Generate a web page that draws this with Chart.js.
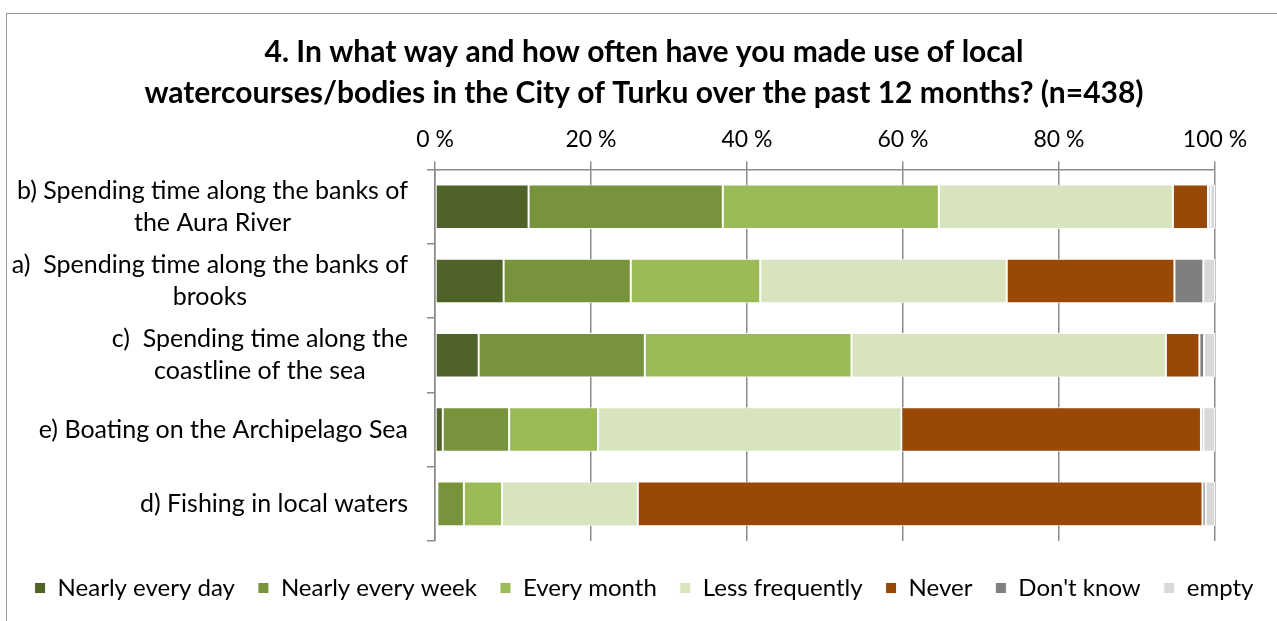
<!DOCTYPE html>
<html>
<head>
<meta charset="utf-8">
<script src="https://cdn.jsdelivr.net/npm/chart.js@4/dist/chart.umd.min.js"></script>
<style>
  html, body { margin: 0; padding: 0; background: #fff; overflow: hidden; }
  #frame { position: absolute; left: 6px; top: 13px; width: 1290px; height: 640px;
           border-left: 1px solid #9a9a9a; border-top: 1px solid #9a9a9a; }
  #wrap { position: absolute; left: 0; top: 0; width: 1274px; height: 607px; }
</style>
</head>
<body>
<div id="frame"><div id="wrap"><canvas id="myChart"></canvas></div></div>
<script>
// categories, top to bottom
const categories = [
  ['b) Spending time along the banks of', 'the Aura River'],
  ['a)  Spending time along the banks of', 'brooks'],
  ['c)  Spending time along the', 'coastline of the sea'],
  ['e) Boating on the Archipelago Sea'],
  ['d) Fishing in local waters']
];

const seriesNames = ['Nearly every day', 'Nearly every week', 'Every month', 'Less frequently', 'Never', "Don't know", 'empty'];

// percentages per category (same order as categories)
const nearlyEveryDay  = [12.0, 8.8, 5.6, 1.0, 0.3];
const nearlyEveryWeek = [24.9, 16.3, 21.3, 8.5, 3.4];
const everyMonth      = [27.7, 16.6, 26.5, 11.4, 4.9];
const lessFrequently  = [30.0, 31.6, 40.3, 38.9, 17.4];
const never           = [4.5, 21.5, 4.3, 38.4, 72.4];
const dontKnow        = [0.3, 3.7, 0.6, 0.3, 0.4];
const empty           = [0.6, 1.5, 1.4, 1.5, 1.2];

const xTicks = [0, 20, 40, 60, 80, 100];

const titleLines = [
  '4. In what way and how often have you made use of local',
  'watercourses/bodies in the City of Turku over the past 12 months? (n=438)'
];

const colors = ['#4F6228', '#77933C', '#9BBB59', '#D7E4BD', '#984807', '#7F7F7F', '#D9D9D9'];
const FONT = 'Lato';

const allSeries = [nearlyEveryDay, nearlyEveryWeek, everyMonth, lessFrequently, never, dontKnow, empty];
const datasets = allSeries.map((values, i) => ({
  label: seriesNames[i],
  data: values,
  backgroundColor: colors[i],
  borderColor: 'rgba(255,255,255,0.95)',
  borderWidth: 1,
  borderSkipped: false,
  barPercentage: 0.6,
  categoryPercentage: 1.0
}));

// y labels: block right-aligned, lines centered inside block (like Excel)
const yLabelPlugin = {
  id: 'yLabels',
  afterDraw(chart) {
    const ctx = chart.ctx;
    const yScale = chart.scales.y;
    const right = chart.chartArea.left - 27;
    ctx.save();
    ctx.font = '25px ' + FONT;
    ctx.fillStyle = '#000';
    ctx.textAlign = 'center';
    ctx.textBaseline = 'middle';
    categories.forEach((lines, i) => {
      const yc = yScale.getPixelForValue(i);
      const w = Math.max(...lines.map(l => ctx.measureText(l).width));
      const xc = right - w / 2;
      lines.forEach((line, k) => {
        ctx.fillText(line, xc, yc + (k - (lines.length - 1) / 2) * 32);
      });
    });
    ctx.restore();
  }
};

const ctx = document.getElementById('myChart');
new Chart(ctx, {
  type: 'bar',
  data: {
    labels: categories.map(c => c.join(' ')),
    datasets: datasets
  },
  options: {
    indexAxis: 'y',
    responsive: true,
    maintainAspectRatio: false,
    animation: false,
    layout: { padding: { left: 0, right: 0, top: 0, bottom: 11 } },
    scales: {
      x: {
        position: 'top',
        stacked: true,
        min: 0,
        max: 100,
        afterBuildTicks: (scale) => { scale.ticks = xTicks.map(v => ({ value: v })); },
        afterFit: (scale) => { scale.paddingRight = 66; },
        ticks: {
          callback: (v) => v + ' %',
          color: '#000',
          font: { family: FONT, size: 23 },
          padding: 8,
          maxRotation: 0
        },
        grid: { color: '#8a8a8a', lineWidth: 1.5, tickLength: 8, drawOnChartArea: true },
        border: { color: '#8a8a8a', width: 1.5 }
      },
      y: {
        stacked: true,
        offset: true,
        ticks: { display: false },
        grid: { offset: true, drawOnChartArea: false, color: '#8a8a8a', lineWidth: 1.5, tickLength: 8 },
        border: { color: '#8a8a8a', width: 1.5 },
        afterFit: (scale) => { scale.width = 428; }
      }
    },
    plugins: {
      title: {
        display: true,
        text: titleLines,
        color: '#000',
        font: { family: FONT, size: 30, weight: 'bold', lineHeight: 1.367 },
        padding: { top: 18, bottom: 4 }
      },
      legend: {
        position: 'bottom',
        title: { display: true, text: ' ', font: { size: 1, lineHeight: 1 }, padding: { top: 11, bottom: 0 } },
        labels: {
          boxWidth: 11,
          boxHeight: 11,
          padding: 23,
          color: '#000',
          font: { family: FONT, size: 24 }
        }
      },
      tooltip: { enabled: false }
    }
  },
  plugins: [yLabelPlugin]
});
</script>
</body>
</html>
